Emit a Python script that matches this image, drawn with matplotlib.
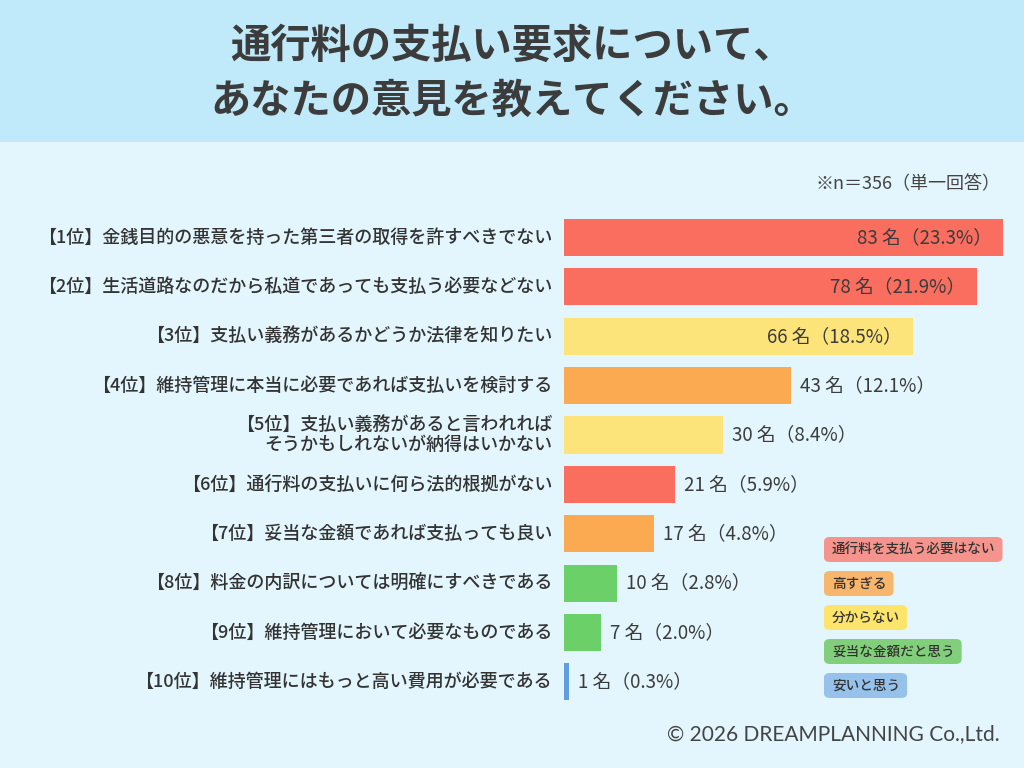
import matplotlib
matplotlib.use("Agg")
import matplotlib.pyplot as plt
from matplotlib.patches import Rectangle, FancyBboxPatch

plt.rcParams['font.family'] = ['Noto Sans CJK JP', 'DejaVu Sans']

# ---- data ----
labels = [
    "【1位】金銭目的の悪意を持った第三者の取得を許すべきでない",
    "【2位】生活道路なのだから私道であっても支払う必要などない",
    "【3位】支払い義務があるかどうか法律を知りたい",
    "【4位】維持管理に本当に必要であれば支払いを検討する",
    "【5位】支払い義務があると言われれば\nそうかもしれないが納得はいかない",
    "【6位】通行料の支払いに何ら法的根拠がない",
    "【7位】妥当な金額であれば支払っても良い",
    "【8位】料金の内訳については明確にすべきである",
    "【9位】維持管理において必要なものである",
    "【10位】維持管理にはもっと高い費用が必要である",
]
counts = [83, 78, 66, 43, 30, 21, 17, 10, 7, 1]
percents = ["23.3", "21.9", "18.5", "12.1", "8.4", "5.9", "4.8", "2.8", "2.0", "0.3"]
categories = ["red", "red", "yellow", "orange", "yellow", "red", "orange", "green", "green", "blue"]

legend_labels = ["通行料を支払う必要はない", "高すぎる", "分からない", "妥当な金額だと思う", "安いと思う"]
legend_keys = ["red", "orange", "yellow", "green", "blue"]

title = "通行料の支払い要求について、\nあなたの意見を教えてください。"
note = "※n＝356（単一回答）"
footer = "© 2026 DREAMPLANNING Co.,Ltd."

bar_colors = {"red": "#fa6e60", "orange": "#fbaa52", "yellow": "#fde47a",
              "green": "#6cd068", "blue": "#5e9fdf"}
legend_colors = {"red": "#f5948c", "orange": "#f8b56c", "yellow": "#fde56c",
                 "green": "#82cf7b", "blue": "#95c1ea"}

W, H = 1024, 768
fig = plt.figure(figsize=(W / 100, H / 100), dpi=100)
fig.patch.set_facecolor("#e3f6fd")

# title band
fig.patches.append(Rectangle((0, 1 - 142 / H), 1, 142 / H, transform=fig.transFigure,
                             facecolor="#c0eaf9", edgecolor="none", zorder=0))
fig.text(0.5, 1 - 74 / H, title, ha="center", va="center", fontsize=29,
         fontweight="bold", color="#3c3c3c", linespacing=1.42)

fig.text(1000 / W, 1 - 184 / H, note, ha="right", va="center", fontsize=13, color="#444444")
fig.text(1000 / W, 1 - 734 / H, footer, ha="right", va="center", fontsize=15,
         color="#444444", family=["Lato", "DejaVu Sans"])

# axes for bars
x0, x1 = 564, 1003
top, bottom = 212.8, 706.6
ax = fig.add_axes([x0 / W, 1 - bottom / H, (x1 - x0) / W, (bottom - top) / H])
ax.set_facecolor("none")
n = len(counts)
ypos = list(range(n))
ax.barh(ypos, counts, height=0.75, color=[bar_colors[c] for c in categories], zorder=2)
ax.set_xlim(0, max(counts))
ax.set_ylim(n - 0.5, -0.5)
ax.axis("off")

maxv = max(counts)
for y, v, p, lab in zip(ypos, counts, percents, labels):
    txt = f"{v} 名（{p}%）"
    if v > 0.7 * maxv:
        ax.annotate(txt, (v, y), xytext=(-8, 0), textcoords="offset points",
                    ha="right", va="center", fontsize=13.5, color="#3c3c3c")
    else:
        ax.annotate(txt, (v, y), xytext=(6.5, 0), textcoords="offset points",
                    ha="left", va="center", fontsize=13.5, color="#3c3c3c")
    ax.annotate(lab, (0, y), xytext=(-8.6, 0), textcoords="offset points",
                ha="right", va="center", fontsize=13, color="#333333",
                fontweight="medium", linespacing=1.15, multialignment="right")

# legend boxes
lx = 824
ly0 = 549.5
lpitch = 34
for i, (lab, key) in enumerate(zip(legend_labels, legend_keys)):
    cy = ly0 + i * lpitch
    t = fig.text((lx + 8) / W, 1 - cy / H, lab, ha="left", va="center",
                 fontsize=9.8, color="#333333", fontweight="medium")
    fig.canvas.draw()
    bb = t.get_window_extent()
    wpx = bb.width + 15
    hpx = 25
    box = FancyBboxPatch((lx / W, 1 - (cy + hpx / 2) / H), wpx / W, hpx / H,
                         boxstyle="round,pad=0,rounding_size=0.006",
                         transform=fig.transFigure, facecolor=legend_colors[key],
                         edgecolor="none", zorder=1)
    fig.patches.append(box)

fig.savefig("out.png", dpi=100, facecolor=fig.get_facecolor())
